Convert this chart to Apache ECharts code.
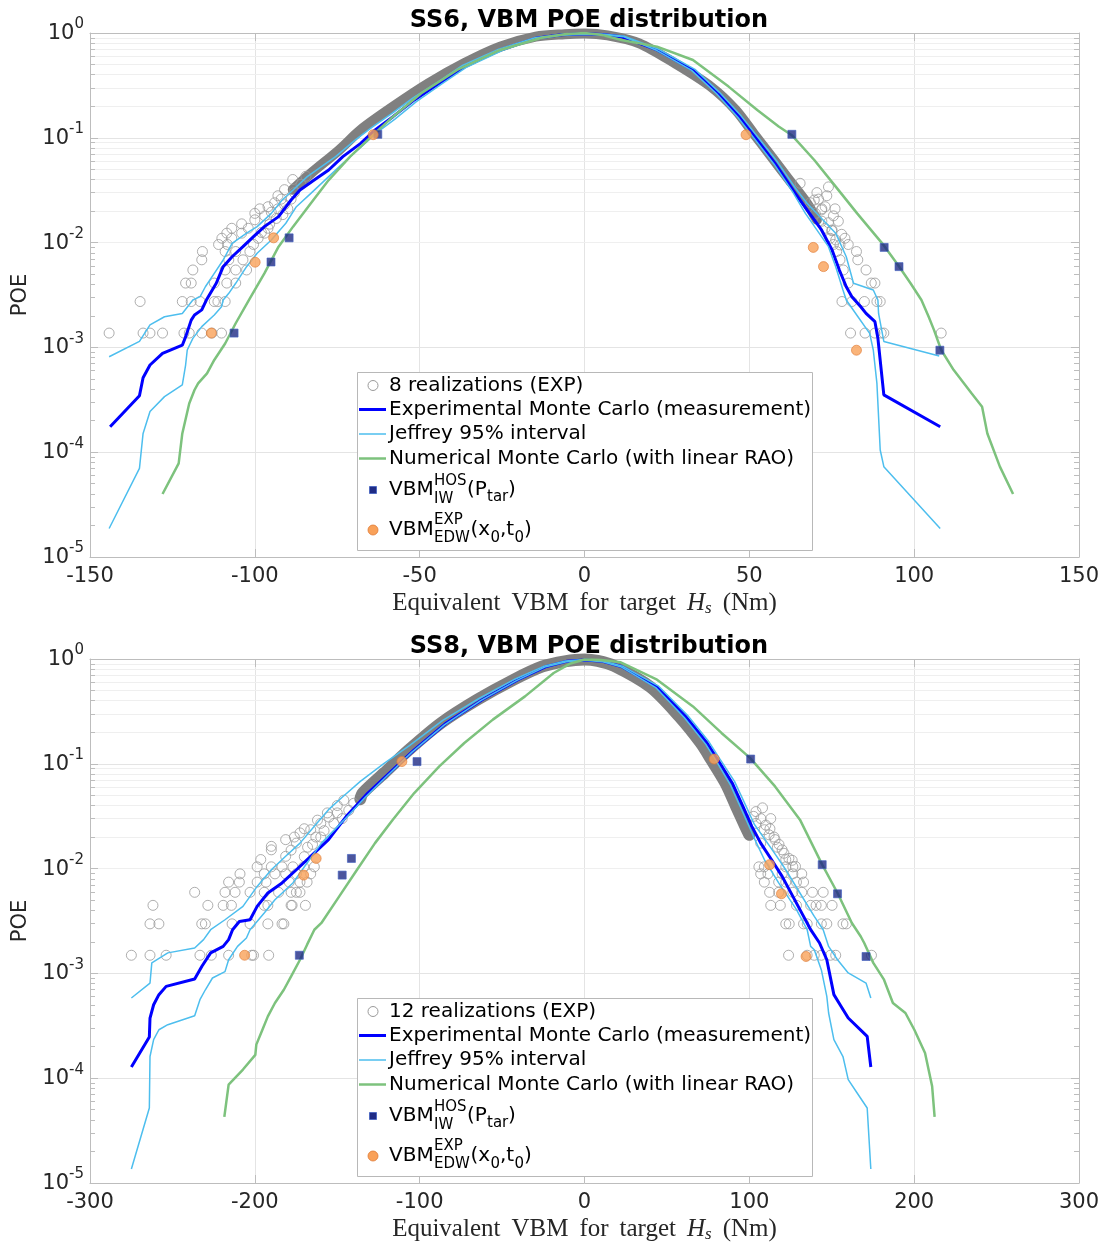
<!DOCTYPE html>
<html><head><meta charset="utf-8">
<script src="https://cdn.jsdelivr.net/npm/echarts@6/dist/echarts.min.js"></script>
<style>html,body{margin:0;padding:0;background:#fff}#c{width:1110px;height:1246px}</style>
</head><body><div id="c"></div>
<script>
// ---------- tick definitions ----------
const xTicksSS6 = [-150, -100, -50, 0, 50, 100, 150];
const xTicksSS8 = [-300, -200, -100, 0, 100, 200, 300];
const yDecades = [1e-5, 1e-4, 1e-3, 1e-2, 1e-1, 1];
const minorMultipliers = [2, 3, 4, 5, 6, 7, 8, 9];

// ---------- SS6 data  [VBM (Nm), POE] ----------
const ss6_expMC = [[-143.9,1.75e-4],[-135.0,3.46e-4],[-133.9,5.14e-4],[-131.8,6.79e-4],[-128.0,8.77e-4],[-122.0,1.05e-3],[-121.0,1.26e-3],[-119.3,1.82e-3],[-118.3,2.04e-3],[-116.1,2.28e-3],[-114.7,2.83e-3],[-111.7,4.09e-3],[-109.6,5.89e-3],[-106.9,7.33e-3],[-103.6,9.14e-3],[-100.4,0.0114],[-97.1,0.0142],[-92.8,0.0177],[-89.0,0.0255],[-86.3,0.0318],[-82.0,0.0395],[-77.6,0.0493],[-73.3,0.0661],[-67.9,0.0885],[-63.5,0.119],[-58.1,0.159],[-51.6,0.230],[-44.0,0.331],[-36.5,0.476],[-25.6,0.689],[-14.8,0.889],[-7.0,0.96],[0,0.985],[5.5,0.97],[11.2,0.923],[22.0,0.689],[32.9,0.444],[40.5,0.266],[46.9,0.159],[52.4,0.0953],[57.8,0.0571],[63.2,0.0318],[67.5,0.0205],[71.9,0.0132],[75.1,8.49e-3],[77.3,5.48e-3],[79.4,3.79e-3],[81.1,3.05e-3],[83.8,2.44e-3],[85.4,2.11e-3],[86.0,2.04e-3],[88.1,1.76e-3],[89.0,1.22e-3],[90.8,3.52e-4],[107.9,1.75e-4]];
const ss6_jeffreyUpper = [[-144.2,8.15e-4],[-135.0,1.14e-3],[-131.8,1.64e-3],[-127.4,1.96e-3],[-122.0,2.11e-3],[-118.8,2.83e-3],[-116.6,3.05e-3],[-115.0,3.79e-3],[-112.3,5.09e-3],[-109.6,6.82e-3],[-106.9,9.84e-3],[-102.5,0.0123],[-99.3,0.0142],[-95.0,0.0190],[-91.7,0.0255],[-88.4,0.0318],[-84.1,0.0426],[-79.8,0.0530],[-75.5,0.0661],[-69.5,0.0955],[-64.5,0.126],[-58.5,0.170],[-52.0,0.240],[-44.5,0.339],[-37.0,0.490],[-26.0,0.700],[-15.0,0.900],[-7.0,0.97],[0,0.99],[6.0,0.975],[12.0,0.93],[22.5,0.70],[33.5,0.45],[41.0,0.27],[47.5,0.162],[53.0,0.098],[58.5,0.059],[64.0,0.033],[67.5,0.0237],[76.2,0.0123],[79.4,7.33e-3],[81.6,4.09e-3],[87.6,3.53e-3],[89.0,2.83e-3],[89.2,2.11e-3],[90.8,1.14e-3],[107.6,8.28e-4]];
const ss6_jeffreyLower = [[-144.2,1.87e-5],[-135.0,7.01e-5],[-133.9,1.51e-4],[-131.8,2.44e-4],[-127.4,3.39e-4],[-122.0,4.38e-4],[-121.0,6.79e-4],[-120.5,9.44e-4],[-118.8,1.22e-3],[-116.1,1.58e-3],[-112.3,2.04e-3],[-110.1,2.44e-3],[-109.6,2.83e-3],[-107.9,3.28e-3],[-105.8,4.09e-3],[-102.5,5.89e-3],[-99.3,7.91e-3],[-95.0,0.0106],[-90.6,0.0153],[-87.4,0.0220],[-83.0,0.0295],[-77.6,0.0426],[-73.3,0.0571],[-67.5,0.083],[-63.0,0.112],[-57.5,0.151],[-51.0,0.221],[-43.5,0.324],[-36.0,0.468],[-25.0,0.680],[-14.5,0.880],[-7.0,0.95],[0,0.975],[5.5,0.96],[12.0,0.92],[22.0,0.68],[32.5,0.44],[40.0,0.265],[46.5,0.157],[52.0,0.094],[57.5,0.056],[63.0,0.031],[67.0,0.0190],[74.0,9.14e-3],[76.2,5.89e-3],[78.4,3.53e-3],[79.4,2.83e-3],[83.0,1.95e-3],[86.5,1.36e-3],[87.6,9.44e-4],[88.7,4.54e-4],[89.7,1.05e-4],[90.8,7.28e-5],[107.9,1.87e-5]];
const ss6_numMC = [[-128.0,3.99e-5],[-123.1,7.83e-5],[-122.0,1.51e-4],[-119.9,2.92e-4],[-118.3,3.92e-4],[-117.2,4.54e-4],[-114.5,5.66e-4],[-112.3,7.59e-4],[-109.0,1.09e-3],[-105.8,1.70e-3],[-101.5,2.94e-3],[-97.1,5.09e-3],[-92.8,9.14e-3],[-88.4,0.0142],[-83.0,0.0237],[-77.6,0.0395],[-71.1,0.0661],[-64.6,0.103],[-58.1,0.159],[-49.5,0.266],[-38.6,0.444],[-25.6,0.689],[-13.0,0.90],[-6.0,0.975],[0,1.0],[5.5,0.955],[11.2,0.857],[22.0,0.741],[32.9,0.552],[43.7,0.308],[52.4,0.184],[58.9,0.128],[63.0,0.105],[69.7,0.0614],[76.2,0.0342],[82.7,0.0190],[90.3,9.84e-3],[95.1,6.11e-3],[98.9,4.09e-3],[102.2,2.83e-3],[104.4,1.96e-3],[106.0,1.47e-3],[108.2,9.44e-4],[112.0,6.08e-4],[117.4,3.65e-4],[120.6,2.72e-4],[122.2,1.51e-4],[126.0,7.28e-5],[130.0,3.99e-5]];
const ss6_realBand = [[-88.5,0.0320],[-83.0,0.0458],[-74.4,0.0766],[-67.9,0.119],[-58.1,0.198],[-47.3,0.331],[-36.5,0.514],[-25.6,0.740],[-14.8,0.923],[-6.0,0.975],[0,0.99],[7.0,0.95],[16.6,0.798],[27.4,0.514],[38.3,0.308],[45.9,0.184],[51.3,0.110],[56.7,0.0661],[62.1,0.0395],[67.5,0.0237],[70.5,0.0165]];
const ss6_realPts = [
 [-144.2,1.37e-3],[-133.9,1.37e-3],[-131.8,1.37e-3],[-128.0,1.37e-3],[-121.5,1.37e-3],[-119.9,1.37e-3],[-116.1,1.37e-3],[-113.0,1.37e-3],[-110.1,1.37e-3],
 [-134.8,2.74e-3],[-122.0,2.74e-3],[-119.3,2.74e-3],[-116.6,2.74e-3],[-112.3,2.74e-3],[-111.2,2.74e-3],[-109.0,2.74e-3],
 [-121.0,4.11e-3],[-119.3,4.11e-3],[-112.3,4.11e-3],[-108.5,4.11e-3],[-105.8,4.11e-3],
 [-118.8,5.48e-3],[-109.0,5.48e-3],[-105.8,5.48e-3],[-102.5,5.48e-3],
 [-116.1,6.85e-3],[-107.9,6.85e-3],[-103.6,6.85e-3],
 [-115.9,8.22e-3],[-109.0,8.22e-3],[-105.8,8.22e-3],[-101.5,8.22e-3],
 [-111.0,9.59e-3],[-108.3,9.59e-3],[-100.4,9.59e-3],
 [-110.0,0.011],[-107.0,0.011],[-99.0,0.011],
 [-108.5,0.0123],[-104.0,0.0123],[-97.0,0.0123],
 [-107.0,0.0137],[-102.0,0.0137],[-96.0,0.0137],
 [-104,0.0151],[-100,0.0165],[-97,0.018],[-95,0.0195],[-93,0.021],[-91,0.023],[-100,0.019],[-96,0.022],[-89,0.026],[-93,0.028],
 [-98,0.0125],[-95.5,0.015],[-93.5,0.017],[-91.5,0.0185],[-98.5,0.021],[-94,0.024],[-90,0.021],[-88,0.030],[-91,0.032],[-86,0.036],[-88.5,0.040],[-84.5,0.043],[-92,0.026],
 [80.7,1.37e-3],[85.1,1.37e-3],[88.1,1.37e-3],[90.0,1.37e-3],[90.8,1.37e-3],[108.2,1.37e-3],
 [78.1,2.74e-3],[81.1,2.74e-3],[84.9,2.74e-3],[88.7,2.74e-3],[89.7,2.74e-3],
 [80.0,4.11e-3],[87.0,4.11e-3],[88.1,4.11e-3],
 [78.5,5.48e-3],[85.4,5.48e-3],
 [77.5,6.85e-3],[82.9,6.85e-3],
 [76.5,8.22e-3],[82.5,8.22e-3],
 [75.5,9.59e-3],[80.0,9.59e-3],
 [74.5,0.011],[79.0,0.011],
 [73,0.0137],[75,0.013],[72,0.016],[74,0.0155],[70,0.019],[72,0.021],[68.5,0.024],[71,0.026],[65.4,0.0368],[69.7,0.0255],[71.9,0.0205],[75.1,0.0132],[76.2,0.0106],
 [70.5,0.030],[73.5,0.028],[73,0.022],[75.5,0.018],[77,0.016],[76,0.021],[78,0.012],[74,0.034],[77.5,0.0095]
];
const ss6_hosIW = [[-106.3,1.37e-3],[-95.1,6.53e-3],[-89.6,0.0111],[-62.7,0.108],[62.9,0.108],[90.9,9.0e-3],[95.4,5.9e-3],[107.8,9.4e-4]];
const ss6_edwEXP = [[-113.2,1.37e-3],[-99.9,6.5e-3],[-94.3,0.0111],[-64.1,0.107],[49.0,0.107],[69.4,9.0e-3],[72.5,5.9e-3],[82.5,9.4e-4]];

// ---------- SS8 data ----------
const ss8_expMC = [[-274.9,1.28e-4],[-264.0,2.47e-4],[-263.6,3.75e-4],[-261.4,5.02e-4],[-258.2,6.27e-4],[-253.8,7.52e-4],[-236.5,8.83e-4],[-232.1,1.17e-3],[-226.8,1.57e-3],[-219.2,1.81e-3],[-215.9,2.10e-3],[-213.5,2.61e-3],[-209.4,3.13e-3],[-202.9,3.25e-3],[-198.6,4.36e-3],[-192.1,5.85e-3],[-183.5,7.30e-3],[-174.8,9.75e-3],[-166.1,0.0131],[-155.3,0.0189],[-144.5,0.0315],[-131.4,0.0526],[-118.4,0.0817],[-103.3,0.136],[-83.8,0.245],[-62.1,0.409],[-40.4,0.634],[-23.1,0.849],[-11.0,0.95],[0,0.98],[11.0,0.95],[22.4,0.849],[44.0,0.54],[61.4,0.283],[74.4,0.158],[80.9,0.109],[89.6,0.0656],[96.1,0.0392],[101.5,0.0253],[106.9,0.0175],[113.4,0.0122],[119.9,8.43e-3],[126.4,5.43e-3],[132.9,3.50e-3],[137.5,2.57e-3],[142.6,1.95e-3],[147.0,1.35e-3],[151.3,6.27e-4],[155.7,4.84e-4],[160.0,3.75e-4],[171.5,2.51e-4],[173.7,1.28e-4]];
const ss8_jeffreyUpper = [[-274.9,5.82e-4],[-263.6,8.09e-4],[-262.5,1.26e-3],[-252.8,1.57e-3],[-236.5,1.75e-3],[-231.1,2.10e-3],[-226.8,2.61e-3],[-218.1,3.25e-3],[-207.2,4.36e-3],[-198.6,6.76e-3],[-190.0,9.75e-3],[-181.3,0.0131],[-172.6,0.0175],[-163.9,0.0253],[-155.3,0.0365],[-147.0,0.048],[-136.0,0.068],[-122.0,0.10],[-106.0,0.15],[-86.0,0.26],[-64.0,0.42],[-42.0,0.645],[-24.0,0.86],[-11.5,0.955],[0,0.99],[11.5,0.955],[23.0,0.855],[45.0,0.55],[62.5,0.29],[75.5,0.162],[82.0,0.112],[91.0,0.068],[97.5,0.041],[103.0,0.0265],[110.0,0.0185],[116.0,0.0135],[122.1,9.75e-3],[130.7,5.85e-3],[139.4,3.50e-3],[144.8,2.61e-3],[148.1,1.81e-3],[153.5,1.35e-3],[160.0,1.01e-3],[170.8,8.09e-4],[173.7,5.82e-4]];
const ss8_jeffreyLower = [[-274.9,1.36e-5],[-264.0,5.20e-5],[-263.6,1.61e-4],[-261.4,2.33e-4],[-258.2,2.90e-4],[-252.8,3.24e-4],[-236.5,3.94e-4],[-233.3,5.61e-4],[-230.0,6.98e-4],[-225.7,9.04e-4],[-218.1,1.04e-3],[-215.9,1.35e-3],[-210.5,1.81e-3],[-205.1,2.18e-3],[-202.9,2.61e-3],[-194.3,3.77e-3],[-187.8,5.05e-3],[-176.9,7.30e-3],[-168.3,0.0113],[-159.6,0.0175],[-146.0,0.029],[-133.0,0.048],[-120.0,0.076],[-104.5,0.13],[-85.0,0.235],[-63.0,0.40],[-41.0,0.625],[-23.5,0.845],[-11.0,0.94],[0,0.975],[11.0,0.94],[22.0,0.845],[43.5,0.53],[60.5,0.277],[73.5,0.154],[80.0,0.106],[88.5,0.063],[95.0,0.0375],[100.5,0.024],[104.0,0.018],[109.1,0.0122],[117.8,7.30e-3],[128.6,4.06e-3],[135.1,2.61e-3],[137.2,1.81e-3],[139.4,1.68e-3],[143.7,1.08e-3],[147.0,6.04e-4],[148.1,4.19e-4],[151.3,2.33e-4],[156.8,1.61e-4],[160.0,9.68e-5],[165.4,7.23e-5],[171.5,5.20e-5],[173.7,1.36e-5]];
const ss8_numMC = [[-218.5,4.27e-5],[-215.9,8.67e-5],[-207.2,1.21e-4],[-199.7,1.67e-4],[-199.1,2.09e-4],[-195.4,2.90e-4],[-192.1,3.89e-4],[-187.8,5.22e-4],[-182.4,6.98e-4],[-178.0,9.35e-4],[-172.6,1.35e-3],[-168.3,1.88e-3],[-163.9,2.61e-3],[-159.6,3.03e-3],[-148.8,5.43e-3],[-138.0,9.75e-3],[-127.1,0.0175],[-116.3,0.0293],[-103.3,0.0526],[-88.1,0.0944],[-72.9,0.158],[-55.6,0.264],[-36.1,0.440],[-18.7,0.735],[-9.0,0.90],[0,0.99],[10.0,0.98],[22.0,0.93],[44.0,0.634],[65.8,0.353],[83.1,0.197],[100.4,0.114],[115.6,0.0608],[130.7,0.0293],[144.2,0.0109],[153.5,5.85e-3],[162.2,3.03e-3],[167.6,2.25e-3],[169.7,1.95e-3],[175.2,1.26e-3],[181.7,8.71e-4],[187.1,5.22e-4],[194.7,4.19e-4],[200.1,2.90e-4],[206.6,1.74e-4],[210.9,8.36e-5],[212.4,4.27e-5]];
const ss8_realBand = [[-136.0,0.046],[-134.5,0.0526],[-121.5,0.0817],[-106.5,0.136],[-87.0,0.245],[-65.0,0.409],[-43.0,0.634],[-25.5,0.849],[-12.0,0.95],[0,0.99],[8.0,0.96],[18.0,0.86],[40.0,0.54],[57.5,0.283],[70.5,0.158],[77.0,0.109],[85.5,0.0656],[92.0,0.0392],[97.5,0.0253],[100.0,0.021]];
const ss8_realPts = [
 [-274.9,1.49e-3],[-263.6,1.49e-3],[-253.8,1.49e-3],[-233.3,1.49e-3],[-226.4,1.49e-3],[-215.9,1.49e-3],[-201.9,1.49e-3],[-200.8,1.49e-3],[-191.6,1.49e-3],
 [-263.6,2.97e-3],[-258.2,2.97e-3],[-232.2,2.97e-3],[-230.0,2.97e-3],[-213.8,2.97e-3],[-202.9,2.97e-3],[-192.1,2.97e-3],[-183.5,2.97e-3],[-182.4,2.97e-3],
 [-261.8,4.46e-3],[-228.5,4.46e-3],[-219.2,4.46e-3],[-214.2,4.46e-3],[-194.3,4.46e-3],[-192.1,4.46e-3],[-178.0,4.46e-3],[-177.4,4.46e-3],[-169.3,4.46e-3],
 [-236.5,5.94e-3],[-218.1,5.94e-3],[-212.0,5.94e-3],[-202.9,5.94e-3],[-194.3,5.94e-3],[-185.6,5.94e-3],[-178.0,5.94e-3],[-174.8,5.94e-3],[-172.6,5.94e-3],
 [-215.9,7.43e-3],[-209.4,7.43e-3],[-198.6,7.43e-3],[-193.2,7.43e-3],[-179.1,7.43e-3],[-172.6,7.43e-3],[-168.3,7.43e-3],
 [-209.0,8.91e-3],[-194.3,8.91e-3],[-187.8,8.91e-3],[-181.3,8.91e-3],[-174.8,8.91e-3],[-166.1,8.91e-3],
 [-198.6,0.0104],[-190.0,0.0104],[-183.5,0.0104],[-176.9,0.0104],[-170.4,0.0104],[-163.9,0.0104],
 [-196.4,0.0122],[-181.3,0.0131],[-190.0,0.0163],[-174.8,0.0175],[-181.3,0.0189],[-172.6,0.0219],[-190.0,0.0151],[-166.1,0.0235],[-160,0.027],[-155,0.031],[-150,0.034],[-163,0.020],[-168,0.016],[-158,0.023],
 [-170,0.013],[-165,0.017],[-160,0.020],[-152,0.027],[-147,0.030],[-143,0.036],[-140,0.042],[-156,0.034],[-150,0.040],[-146,0.045],[-162,0.029],[-176,0.020],[-170,0.024],[-178,0.015],
 [123.8,1.49e-3],[135.1,1.49e-3],[139.4,1.49e-3],[143.7,1.49e-3],[149.2,1.49e-3],[152.4,1.49e-3],[174.1,1.49e-3],
 [122.1,2.97e-3],[124.2,2.97e-3],[132.9,2.97e-3],[135.1,2.97e-3],[143.7,2.97e-3],[147.0,2.97e-3],[156.8,2.97e-3],[158.9,2.97e-3],
 [113.0,4.46e-3],[118.8,4.46e-3],[128.6,4.46e-3],[137.2,4.46e-3],[140.5,4.46e-3],[143.7,4.46e-3],[150.2,4.46e-3],
 [112.3,5.94e-3],[117.8,5.94e-3],[126.4,5.94e-3],[131.8,5.94e-3],[138.3,5.94e-3],[144.8,5.94e-3],
 [109.1,7.43e-3],[117.8,7.43e-3],[122.1,7.43e-3],[128.6,7.43e-3],[132.9,7.43e-3],
 [106.9,8.91e-3],[111.3,8.91e-3],[119.9,8.91e-3],[126.4,8.91e-3],[131.8,8.91e-3],
 [105.8,0.0104],[109.1,0.0104],[122.1,0.0104],[126.4,0.0104],
 [102.6,0.0315],[109.1,0.0235],[115.6,0.0189],[119.9,0.0151],[122.1,0.0122],[106.9,0.0175],[104,0.027],[112,0.021],[117,0.016],[124,0.0125],
 [104,0.035],[107,0.030],[110,0.026],[112.5,0.024],[115,0.020],[118,0.017],[121,0.014],[126,0.012],[128,0.0105],[113,0.030],[108,0.038]
];
const ss8_hosIW = [[-173.0,1.49e-3],[-147.0,8.67e-3],[-141.4,0.0125],[-101.6,0.105],[100.8,0.111],[144.2,0.0109],[153.5,5.75e-3],[170.8,1.45e-3]];
const ss8_edwEXP = [[-206.2,1.49e-3],[-170.4,8.67e-3],[-162.8,0.0125],[-110.8,0.105],[78.7,0.111],[112.3,0.0109],[119.5,5.75e-3],[134.4,1.45e-3]];

// ---------- styles ----------
const FONT = 'DejaVu Sans';
const SERIF = 'Liberation Serif';
const TXT = '#262626';
const AXIS = '#bdbdbd';
const GRIDC = '#e4e4e4';
const MINORC = '#efefef';
const C_BAND = '#808080', C_PTS = '#9a9a9a', C_EXP = '#0000ff', C_JEF = '#4dbeee', C_NUM = '#7dc27d', C_HOS = '#1f2b85', C_EDW = '#f9a159';

const panels = [
  {title: 'SS6, VBM POE distribution', top: 33, xTicks: xTicksSS6, nReal: '8 realizations (EXP)', bandW: 10,
   exp: ss6_expMC, ju: ss6_jeffreyUpper, jl: ss6_jeffreyLower, num: ss6_numMC, band: ss6_realBand, pts: ss6_realPts, hos: ss6_hosIW, edw: ss6_edwEXP},
  {title: 'SS8, VBM POE distribution', top: 659, xTicks: xTicksSS8, nReal: '12 realizations (EXP)', bandW: 12,
   exp: ss8_expMC, ju: ss8_jeffreyUpper, jl: ss8_jeffreyLower, num: ss8_numMC, band: ss8_realBand, pts: ss8_realPts, hos: ss8_hosIW, edw: ss8_edwEXP}
];
const GL = 90, GW = 989, GH = 524;

const minorVals = [];
yDecades.slice(0, -1).forEach(d => minorMultipliers.forEach(m => minorVals.push(Number((m * d).toPrecision(3)))));

const grids = [], xAxes = [], yAxes = [], series = [], titles = [], graphics = [];
const serifRich = {
  w: {fontFamily: SERIF, fontSize: 25, color: TXT, lineHeight: 27, padding: [0, 11, 0, 0]},
  n: {fontFamily: SERIF, fontSize: 25, color: TXT, lineHeight: 27, padding: [0, 0, 0, 11]},
  i: {fontFamily: SERIF, fontSize: 25, fontStyle: 'italic', color: TXT, lineHeight: 27},
  s: {fontFamily: SERIF, fontSize: 17, fontStyle: 'italic', color: TXT, lineHeight: 17, padding: [10, 0, 0, 0]}
};

panels.forEach((p, gi) => {
  const xmin = p.xTicks[0], xmax = p.xTicks[p.xTicks.length - 1], xint = p.xTicks[1] - p.xTicks[0];
  grids.push({left: GL, top: p.top, width: GW, height: GH, containLabel: false});
  titles.push({text: p.title, left: 584, top: p.top - 29, textAlign: 'center',
    textStyle: {fontFamily: FONT, fontSize: 24, fontWeight: 'bold', color: '#000'}});
  xAxes.push({type: 'value', gridIndex: gi, min: xmin, max: xmax, interval: xint, position: 'bottom',
    axisLine: {show: true, onZero: false, lineStyle: {color: AXIS}},
    axisTick: {show: true, inside: true, length: 8, lineStyle: {color: AXIS}},
    axisLabel: {fontFamily: FONT, fontSize: 21, color: TXT, margin: 9},
    splitLine: {show: true, lineStyle: {color: GRIDC, width: 1}},
    name: '{w|Equivalent}{w|VBM}{w|for}{w|target}{i|H}{s|s}{n|(Nm)}', nameLocation: 'middle', nameGap: 33,
    nameTextStyle: {rich: serifRich}});
  xAxes.push({type: 'value', gridIndex: gi, min: xmin, max: xmax, interval: xint, position: 'top',
    axisLine: {show: true, onZero: false, lineStyle: {color: AXIS}},
    axisTick: {show: true, inside: true, length: 8, lineStyle: {color: AXIS}},
    axisLabel: {show: false}, splitLine: {show: false}});
  yAxes.push({type: 'log', logBase: 10, gridIndex: gi, min: yDecades[0], max: yDecades[yDecades.length - 1], position: 'left',
    axisLine: {show: true, onZero: false, lineStyle: {color: AXIS}},
    axisTick: {show: true, inside: true, length: 8, lineStyle: {color: AXIS}},
    axisLabel: {margin: 6, formatter: v => '{b|10}{e|' + Math.round(Math.log10(v)) + '}',
      rich: {b: {fontFamily: FONT, fontSize: 21, color: TXT, lineHeight: 22, verticalAlign: 'bottom'},
             e: {fontFamily: FONT, fontSize: 15, color: TXT, lineHeight: 15, padding: [0, 0, 12, 0], verticalAlign: 'bottom'}}},
    splitLine: {show: true, lineStyle: {color: GRIDC, width: 1}},
    name: 'POE', nameLocation: 'middle', nameGap: 58, nameRotate: 90,
    nameTextStyle: {fontFamily: FONT, fontSize: 21, color: TXT}});
  yAxes.push({type: 'log', logBase: 10, gridIndex: gi, min: yDecades[0], max: yDecades[yDecades.length - 1], position: 'right',
    axisLine: {show: true, onZero: false, lineStyle: {color: AXIS}},
    axisTick: {show: true, inside: true, length: 8, lineStyle: {color: AXIS}},
    axisLabel: {show: false}, splitLine: {show: false}});

  const xi = 2 * gi, yi = 2 * gi;
  const d = (xmax - xmin) * 5 / GW;
  const ml = [];
  minorVals.forEach(v => {
    ml.push({yAxis: v, lineStyle: {color: MINORC, width: 1, type: 'solid'}});
    ml.push([{coord: [xmin, v], lineStyle: {color: AXIS, width: 1, type: 'solid'}}, {coord: [xmin + d, v]}]);
    ml.push([{coord: [xmax - d, v], lineStyle: {color: AXIS, width: 1, type: 'solid'}}, {coord: [xmax, v]}]);
  });
  const base = {xAxisIndex: xi, yAxisIndex: yi, animation: false, emphasis: {disabled: true}, silent: true};
  series.push(Object.assign({type: 'line', data: [[xmin, 1]], symbol: 'none', z: 0,
    markLine: {silent: true, symbol: ['none', 'none'], label: {show: false}, z: 0, animation: false, data: ml}}, base));
  series.push(Object.assign({type: 'line', name: 'band' + gi, data: p.band, symbol: 'none', smooth: 0.3, z: 2,
    lineStyle: {color: C_BAND, width: p.bandW, cap: 'round', join: 'round'}}, base));
  series.push(Object.assign({type: 'scatter', name: p.nReal, data: p.pts, symbol: 'circle', symbolSize: 10, z: 3,
    itemStyle: {color: 'rgba(0,0,0,0)', borderColor: C_PTS, borderWidth: 1}}, base));
  series.push(Object.assign({type: 'line', data: p.exp, symbol: 'none', z: 4, lineStyle: {color: C_EXP, width: 3}}, base));
  series.push(Object.assign({type: 'line', data: p.ju, symbol: 'none', z: 5, lineStyle: {color: C_JEF, width: 1.5}}, base));
  series.push(Object.assign({type: 'line', data: p.jl, symbol: 'none', z: 5, lineStyle: {color: C_JEF, width: 1.5}}, base));
  series.push(Object.assign({type: 'line', data: p.num, symbol: 'none', z: 6, lineStyle: {color: C_NUM, width: 2.5}}, base));
  series.push(Object.assign({type: 'scatter', data: p.hos, symbol: 'rect', symbolSize: 8, z: 7,
    itemStyle: {color: C_HOS, borderColor: '#4060c0', borderWidth: 0.8}}, base));
  series.push(Object.assign({type: 'scatter', data: p.edw, symbol: 'circle', symbolSize: 10, z: 8,
    itemStyle: {color: C_EDW, borderColor: '#e07a35', borderWidth: 0.8}}, base));

  // legend (drawn as graphic)
  const oy = p.top - 33;
  const T = (x, y, t, fs) => ({type: 'text', x: x, y: oy + y, z: 101,
    style: {text: t, fontFamily: FONT, fontSize: fs || 20, fill: '#000', verticalAlign: 'middle', align: 'left'}});
  const L = (y, c, w) => ({type: 'line', z: 101, shape: {x1: 359, y1: oy + y, x2: 386, y2: oy + y}, style: {stroke: c, lineWidth: w}});
  graphics.push(
    {type: 'rect', z: 100, shape: {x: 357.5, y: oy + 372.5, width: 455, height: 178}, style: {fill: '#fff', stroke: '#b8b8b8', lineWidth: 1}},
    {type: 'circle', z: 101, shape: {cx: 373, cy: oy + 385.5, r: 5}, style: {fill: 'none', stroke: C_PTS, lineWidth: 1}},
    T(389, 385.5, p.nReal),
    L(409.5, C_EXP, 3), T(389, 409.5, 'Experimental Monte Carlo (measurement)'),
    L(434, C_JEF, 1.5), T(389, 434, 'Jeffrey 95% interval'),
    L(458.5, C_NUM, 2.5), T(389, 458.5, 'Numerical Monte Carlo (with linear RAO)'),
    {type: 'rect', z: 101, shape: {x: 369.5, y: oy + 486.5, width: 7, height: 7}, style: {fill: C_HOS, stroke: '#4060c0', lineWidth: 0.8}},
    T(389, 490, 'VBM'), T(434, 481, 'HOS', 15), T(434, 499.5, 'IW', 15), T(467, 490, '(P'), T(487, 497.5, 'tar', 15), T(508, 490, ')'),
    {type: 'circle', z: 101, shape: {cx: 373, cy: oy + 530, r: 5}, style: {fill: C_EDW, stroke: '#e07a35', lineWidth: 0.8}},
    T(389, 530, 'VBM'), T(434, 520, 'EXP', 15), T(434, 538.5, 'EDW', 15), T(470.5, 530, '(x'), T(490.5, 538, '0', 15),
    T(500, 530, ',t'), T(514.5, 538, '0', 15), T(524, 530, ')')
  );
});

const chart = echarts.init(document.getElementById('c'), null, {renderer: 'canvas'});
chart.setOption({
  animation: false, backgroundColor: '#fff',
  title: titles, grid: grids, xAxis: xAxes, yAxis: yAxes, series: series, graphic: graphics
});
</script></body></html>
